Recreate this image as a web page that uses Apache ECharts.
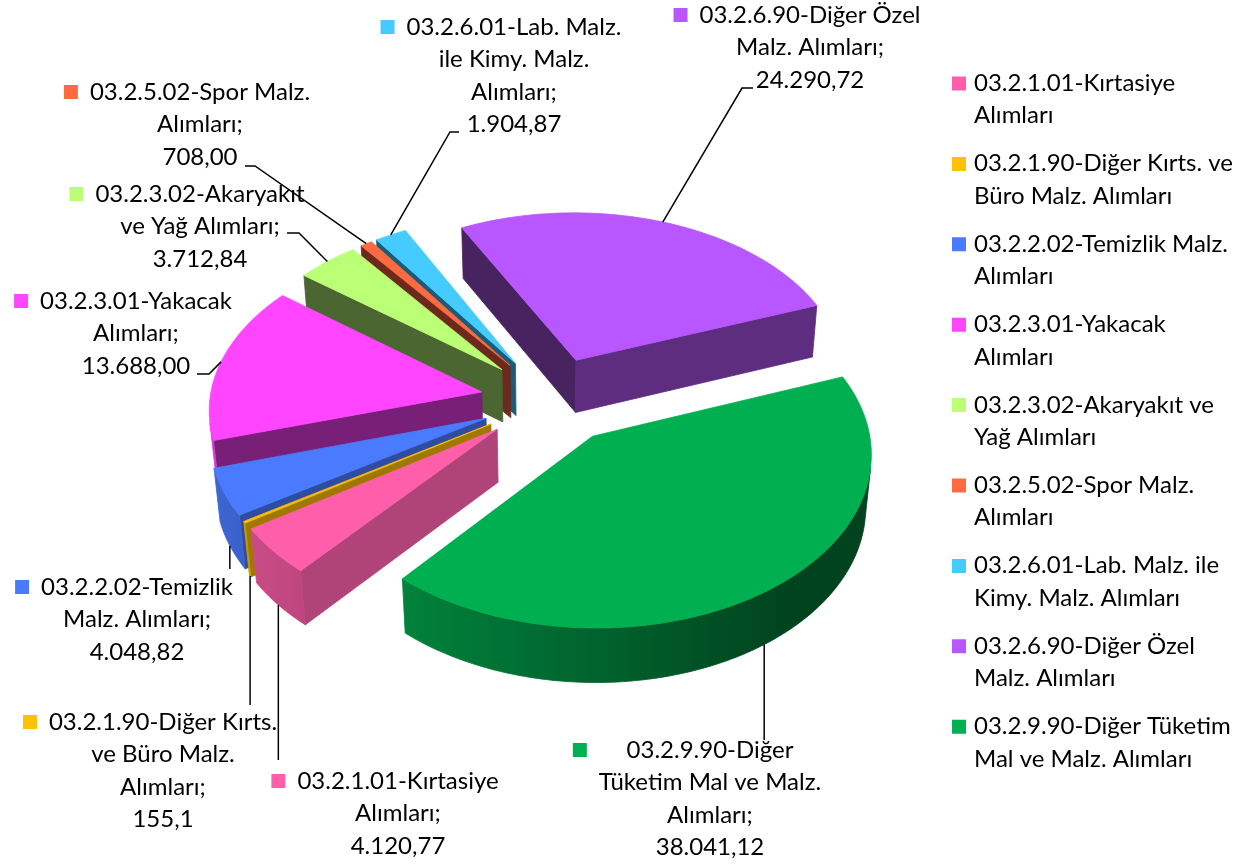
<!DOCTYPE html>
<html>
<head>
<meta charset="utf-8">
<script src="https://cdn.jsdelivr.net/npm/echarts@6/dist/echarts.min.js"></script>
<style>
  html, body { margin: 0; padding: 0; background: #fff; }
  #chart { width: 1242px; height: 865px; }
</style>
</head>
<body>
<div id="chart"></div>
<script>
// ---- data ----
const categories = [
  '03.2.1.01-Kırtasiye Alımları',
  '03.2.1.90-Diğer Kırts. ve Büro Malz. Alımları',
  '03.2.2.02-Temizlik Malz. Alımları',
  '03.2.3.01-Yakacak Alımları',
  '03.2.3.02-Akaryakıt ve Yağ Alımları',
  '03.2.5.02-Spor Malz. Alımları',
  '03.2.6.01-Lab. Malz. ile Kimy. Malz. Alımları',
  '03.2.6.90-Diğer Özel Malz. Alımları',
  '03.2.9.90-Diğer Tüketim Mal ve Malz. Alımları'
];
const values = [4120.77, 155.1, 4048.82, 13688.00, 3712.84, 708.00, 1904.87, 24290.72, 38041.12];
const valueText = ['4.120,77', '155,1', '4.048,82', '13.688,00', '3.712,84', '708,00', '1.904,87', '24.290,72', '38.041,12'];

// how the text wraps in the data labels and in the legend
const labelLines = [
  ['03.2.1.01-Kırtasiye', 'Alımları'],
  ['03.2.1.90-Diğer Kırts.', 've Büro Malz.', 'Alımları'],
  ['03.2.2.02-Temizlik', 'Malz. Alımları'],
  ['03.2.3.01-Yakacak', 'Alımları'],
  ['03.2.3.02-Akaryakıt', 've Yağ Alımları'],
  ['03.2.5.02-Spor Malz.', 'Alımları'],
  ['03.2.6.01-Lab. Malz.', 'ile Kimy. Malz.', 'Alımları'],
  ['03.2.6.90-Diğer Özel', 'Malz. Alımları'],
  ['03.2.9.90-Diğer', 'Tüketim Mal ve Malz.', 'Alımları']
];
const legendLines = [
  '03.2.1.01-Kırtasiye\nAlımları',
  '03.2.1.90-Diğer Kırts. ve\nBüro Malz. Alımları',
  '03.2.2.02-Temizlik Malz.\nAlımları',
  '03.2.3.01-Yakacak\nAlımları',
  '03.2.3.02-Akaryakıt ve\nYağ Alımları',
  '03.2.5.02-Spor Malz.\nAlımları',
  '03.2.6.01-Lab. Malz. ile\nKimy. Malz. Alımları',
  '03.2.6.90-Diğer Özel\nMalz. Alımları',
  '03.2.9.90-Diğer Tüketim\nMal ve Malz. Alımları'
];

// ---- styles / layout ----
const topColors = ['#FF5FAA', '#FFC000', '#4A7BFF', '#FF45FF', '#BBFF77', '#FF6A40', '#45CBFF', '#B856FF', '#00B050'];
// [start cut face, end cut face]
const cutColors = [
  ['#B04378', '#B04378'], ['#A07800', '#A07800'], ['#2E4CA0', '#2E4CA0'],
  ['#782078', '#782078'], ['#4B6630', '#4B6630'], ['#6B2A1C', '#6B2A1C'],
  ['#1A5C78', '#1A5C78'], ['#47235F', '#5E2D80'], ['#00602C', '#00602C']
];
// label text centre x, centre y of first line
const labelPos = [[398, 781], [163, 722], [137, 587], [136, 301], [200, 194], [200, 92], [514, 27], [810, 15], [710, 750]];
// leader: from slice anchor (rim top / wall bottom at mid angle) to the label
const leaders = [
  { anchor: 'bottom', dropTo: 760 },
  { anchor: 'bottom', dropTo: 705 },
  { anchor: 'bottom', dropTo: 569 },
  { anchor: 'top', path: [[209, 374], [197, 374]] },
  { anchor: 'top', path: [[299, 233], [287, 233]] },
  { anchor: 'top', path: [[255, 166], [245, 166]] },
  { anchor: 'top', path: [[450, 132], [459, 132]] },
  { anchor: 'top', path: [[742, 88], [753, 88]] },
  { anchor: 'bottom', dropTo: 740 }
];

const FONT = 'Lato';
const FONT_SIZE = 24;
const LINE_H = 32.5;

// 3d view
const CX = 551, CY = 400, SCALE = 272;
const TILT = 38 * Math.PI / 180;
const PERSP = 0.09;
const EXPLODE = 0.26;
const HEIGHT = 0.25;
const FIRST_ANGLE = 220.4; // first slice starts here, clockwise from 12 o'clock

const sinT = Math.sin(TILT), cosT = Math.cos(TILT);
const DIST = cosT / PERSP;
const CAM_Y = DIST * cosT;
const rad = d => d * Math.PI / 180;

function project(x, y, z) {
  const k = SCALE / (1 - (y * cosT + z * sinT) / DIST);
  return [CX + k * x, CY + k * (y * sinT - z * cosT)];
}
function facing(nx, ny, px, py) {
  return nx * (0 - px) + ny * (CAM_Y - py) > 0;
}
function shade(hex, f) {
  const n = parseInt(hex.slice(1), 16);
  const c = [(n >> 16) & 255, (n >> 8) & 255, n & 255].map(v => Math.round(Math.min(255, v * f)));
  return 'rgb(' + c.join(',') + ')';
}
const wallShade = a => Math.max(0.38, 0.56 - 0.28 * Math.sin(rad(a)));

// slice angles from the values
const total = values.reduce((a, b) => a + b, 0);
const geo = [];
let acc = FIRST_ANGLE;
values.forEach(v => {
  const sweep = v / total * 360;
  geo.push({ a1: acc, a2: acc + sweep, mid: acc + sweep / 2 });
  acc += sweep;
});
const depthRank = [];
geo.map((g, i) => ({ i, y: -Math.cos(rad(g.mid)) }))
  .sort((a, b) => a.y - b.y)
  .forEach((d, r) => { depthRank[d.i] = r; });

const measureCtx = document.createElement('canvas').getContext('2d');
measureCtx.font = FONT_SIZE + 'px ' + FONT;

function renderSlice(params, api) {
  const i = params.seriesIndex;
  const g = geo[i];
  const color = topColors[i];
  const ex = EXPLODE * Math.sin(rad(g.mid));
  const ey = -EXPLODE * Math.cos(rad(g.mid));
  const pt = (a, r) => [ex + r * Math.sin(rad(a)), ey - r * Math.cos(rad(a))];
  const P = (p, z) => project(p[0], p[1], z);
  const apex = [ex, ey];
  const zBase = 100 + depthRank[i] * 10;
  const children = [];
  const face = (pts, fill, z2) => children.push({
    type: 'polygon', shape: { points: pts },
    style: { fill: fill, stroke: fill, lineWidth: 0.8 }, z2: z2
  });

  // cut faces
  const s1 = pt(g.a1, 0.5);
  if (facing(-Math.cos(rad(g.a1)), -Math.sin(rad(g.a1)), s1[0], s1[1])) {
    const r = pt(g.a1, 1);
    face([P(apex, 0), P(r, 0), P(r, -HEIGHT), P(apex, -HEIGHT)], cutColors[i][0], zBase);
  }
  const s2 = pt(g.a2, 0.5);
  if (facing(Math.cos(rad(g.a2)), Math.sin(rad(g.a2)), s2[0], s2[1])) {
    const r = pt(g.a2, 1);
    face([P(apex, 0), P(r, 0), P(r, -HEIGHT), P(apex, -HEIGHT)], cutColors[i][1], zBase);
  }

  // outer wall: one polygon over the visible part, shaded left to right
  const n = Math.max(2, Math.ceil(g.a2 - g.a1));
  const step = (g.a2 - g.a1) / n;
  let kFirst = -1, kLast = -1;
  for (let k = 0; k < n; k++) {
    const tm = g.a1 + (k + 0.5) * step;
    const pm = pt(tm, 1);
    if (facing(Math.sin(rad(tm)), -Math.cos(rad(tm)), pm[0], pm[1])) {
      if (kFirst < 0) kFirst = k;
      kLast = k;
    }
  }
  if (kFirst >= 0) {
    const topArc = [], botArc = [], samples = [];
    for (let k = kFirst; k <= kLast + 1; k++) {
      const t = g.a1 + k * step;
      const p = pt(t, 1);
      const pt0 = P(p, 0);
      topArc.push(pt0);
      botArc.unshift(P(p, -HEIGHT));
      samples.push({ x: pt0[0], c: shade(color, wallShade(t)) });
    }
    const xs = samples.map(s => s.x);
    const x0 = Math.min.apply(null, xs), x1 = Math.max.apply(null, xs);
    let fill = shade(color, wallShade(g.mid));
    if (x1 - x0 > 1) {
      fill = {
        type: 'linear', x: x0, y: 0, x2: x1, y2: 0, global: true,
        colorStops: samples.map(s => ({ offset: (s.x - x0) / (x1 - x0), color: s.c }))
          .sort((a, b) => a.offset - b.offset)
      };
    }
    face(topArc.concat(botArc), fill, zBase + 1);
  }

  // top face
  const top = [P(apex, 0)];
  for (let k = 0; k <= n; k++) top.push(P(pt(g.a1 + k * step, 1), 0));
  face(top, color, 500);

  // leader line
  const L = leaders[i];
  const anchor = L.anchor === 'top' ? P(pt(g.mid, 1), 0) : P(pt(g.mid, 1), -HEIGHT);
  const line = [anchor];
  if (L.dropTo != null) line.push([anchor[0], L.dropTo]);
  else L.path.forEach(p => line.push(p));
  children.push({
    type: 'polyline', shape: { points: line },
    style: { stroke: '#000', lineWidth: 1.5, fill: null }, z2: 600
  });

  // data label
  const lines = labelLines[i].slice();
  lines[lines.length - 1] += ';';
  lines.push(valueText[i]);
  const [lx, ly] = labelPos[i];
  const maxW = Math.max.apply(null, lines.map(t => measureCtx.measureText(t).width));
  children.push({
    type: 'rect',
    shape: { x: lx - maxW / 2 - 26, y: ly - 7, width: 14, height: 14 },
    style: { fill: color }, z2: 600
  });
  children.push({
    type: 'text',
    style: {
      text: lines.join('\n'), x: lx, y: ly - LINE_H / 2,
      fill: '#000', fontSize: FONT_SIZE, fontFamily: FONT,
      align: 'center', verticalAlign: 'top', lineHeight: LINE_H
    },
    z2: 600
  });

  return { type: 'group', children: children };
}

const chart = echarts.init(document.getElementById('chart'));
chart.setOption({
  backgroundColor: '#ffffff',
  animation: false,
  color: topColors,
  legend: {
    orient: 'vertical',
    left: 952,
    top: 67,
    padding: 0,
    itemWidth: 14,
    itemHeight: 46,
    itemGap: 15.4,
    // square at the top of a tall key box, so it sits beside the first text line
    icon: 'path://M0,0H14V14H0Z M0,46H0.05V46.05H0Z',
    selectedMode: false,
    data: categories,
    formatter: name => legendLines[categories.indexOf(name)],
    textStyle: {
      color: '#000', fontSize: FONT_SIZE, fontFamily: FONT, lineHeight: LINE_H,
      padding: [0, 0, 0, 3]
    }
  },
  series: categories.map((name, i) => ({
    type: 'custom',
    name: name,
    coordinateSystem: 'none',
    silent: true,
    itemStyle: { color: topColors[i] },
    data: [[values[i]]],
    renderItem: renderSlice
  }))
});
</script>
</body>
</html>
